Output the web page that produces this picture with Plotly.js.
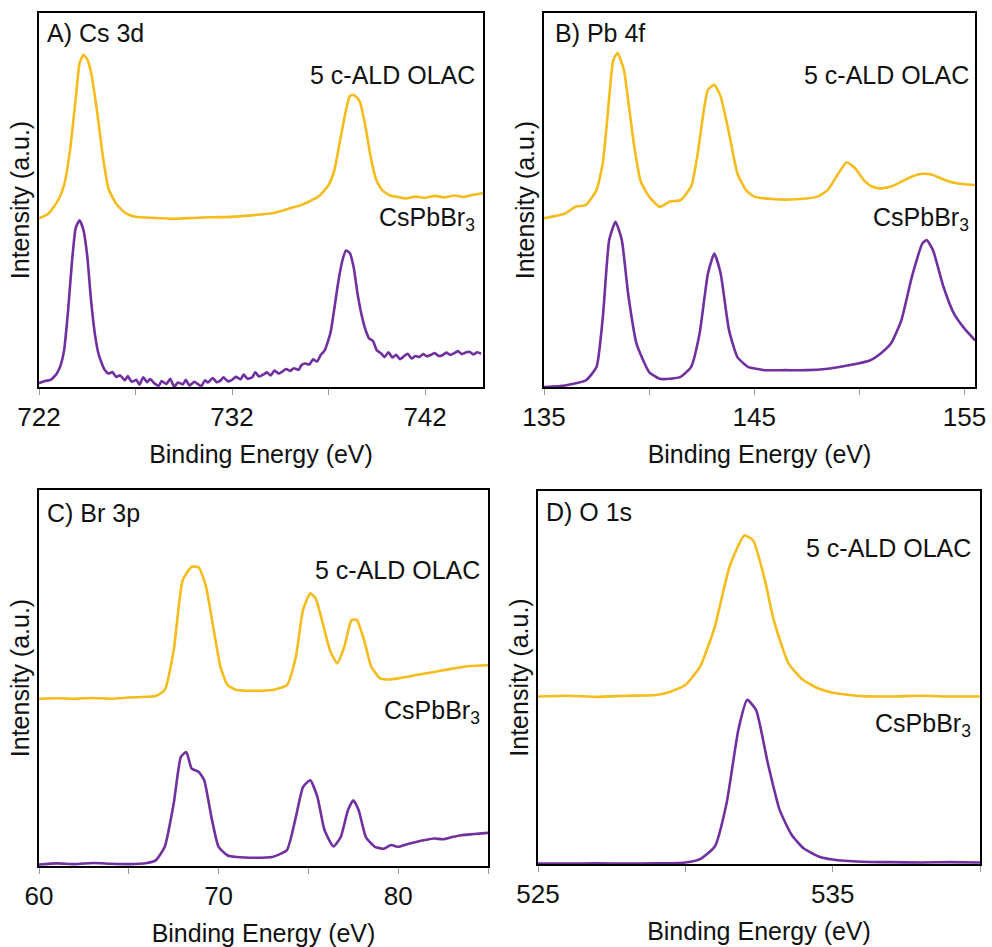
<!DOCTYPE html>
<html>
<head>
<meta charset="utf-8">
<script src="https://cdn.plot.ly/plotly-3.0.1.min.js"></script>
<style>html,body{margin:0;padding:0;background:#fff;}#chart{width:992px;height:947px;}</style>
</head>
<body>
<div id="chart"></div>
<script>
// ---------- Data (intensity in arbitrary units) ----------
// Panel A: Cs 3d
const csX_ald = [722,722.5,723,723.3,723.6,723.9,724.1,724.3,724.5,724.7,725,725.3,725.6,726,726.5,727,728,729,730,731,732,733,734,734.5,735,735.5,736,736.5,737,737.3,737.6,737.9,738.1,738.3,738.6,738.9,739.2,739.5,739.8,740.2,740.6,741,741.5,742,742.5,743,743.5,744,744.5,745];
const csY_ald = [45.1,46.4,50,54,63,77,86.5,88.8,87.6,84,74,62,53,49,46.4,45.5,45.2,45,45.2,45.4,45.5,45.9,46.4,47,47.8,48.5,49.6,51,54,58,66,74,77.8,78.1,76.5,70,61,55,52.5,51.2,50.8,50.4,50.9,50.6,51.1,50.7,51.2,50.8,51.4,51.8];
const csX_ref = [722,722.3,722.6,722.9,723.1,723.3,723.5,723.7,723.9,724.1,724.3,724.5,724.7,724.9,725.1,725.4,725.6,725.8,726,726.2,726.45,726.6,726.8,727.05,727.2,727.4,727.6,727.75,728,728.2,728.35,728.6,728.8,729.0,729.2,729.45,729.6,729.8,730.05,730.2,730.4,730.6,730.75,731,731.2,731.4,731.55,731.8,732,732.2,732.45,732.6,732.8,733.05,733.2,733.4,733.65,733.8,734,734.2,734.4,734.6,734.8,735,735.2,735.45,735.6,735.8,736,736.2,736.4,736.6,736.8,737.1,737.3,737.5,737.7,737.9,738.1,738.3,738.5,738.7,738.9,739.1,739.3,739.5,739.7,739.9,740.1,740.3,740.5,740.7,740.9,741.1,741.3,741.5,741.7,741.9,742.1,742.3,742.5,742.7,742.9,743.1,743.3,743.5,743.7,743.9,744.1,744.3,744.5,744.7,744.9];
const csY_ref = [1.0,1.6,1.9,3.4,5.5,9.8,20,33,42.5,44.6,42,35,23,14,8.5,4.6,3.6,4.0,2.7,3.1,1.8,2.9,1.4,1.9,0.6,2.6,1.3,2.1,0.9,0.3,1.6,0.8,2.2,0.1,1.2,0.7,1.9,0.4,1.4,0.9,0.2,1.8,1.2,2.4,1.3,1.7,2.6,1.5,1.9,2.7,2.1,3.3,2.2,2.6,3.9,2.8,3.4,3.9,3.1,4.4,3.6,4.1,4.8,4.3,5.0,4.6,5.9,6.3,6.0,7.4,6.8,8.6,9.8,14.5,21,28,33.5,36.5,35.8,32,25,19.5,15.5,13,12.3,9.8,9.1,8.0,9.3,7.9,8.6,7.4,8.2,8.9,7.6,8.3,8.0,8.8,8.2,8.6,9.1,8.3,8.5,9.2,8.6,9.0,9.6,8.8,9.2,9.4,8.7,9.3,8.9];

// Panel B: Pb 4f
const pbX_ald = [135,136,136.5,137,137.5,137.8,138,138.3,138.5,138.8,139,139.3,139.6,140,140.5,141,141.5,142,142.3,142.6,142.8,143.1,143.4,143.8,144.2,144.6,145,146,147,148,148.5,149,149.4,149.8,150.2,150.6,151,151.5,152,152.5,153,153.5,154,154.5,155,155.5];
const pbY_ald = [45.1,46.4,48.2,48.7,52.7,60,71,87.5,89.3,84.8,76.8,64,55,50.9,48.2,49.6,50,53.6,62,74,79.5,80.8,77.7,67.9,57.1,52.7,50.9,50.2,50.2,50.9,52.7,57.1,60.1,58.5,55.4,53.6,53.1,53.6,54.9,56.3,57,56.7,55.5,54.6,54.2,54];
const pbX_ref = [135,136,137,137.5,137.8,138.1,138.4,138.7,139,139.4,140,140.5,141,141.5,142,142.4,142.8,143.1,143.4,143.8,144.2,144.7,145.5,146.5,147.5,148.5,149.5,150.5,151,151.5,152,152.5,153,153.2,153.5,154,154.5,155,155.5];
const pbY_ref = [0,0.4,1.8,5.4,18.8,39.3,44.2,39.3,25,11.6,4,2.2,2.2,2.7,5.4,14.3,30.4,35.7,30.4,15.2,8,5.4,4.5,4.5,4.5,4.9,5.8,7.1,8.9,11.6,17.9,29.5,38.4,39.3,36.6,26.8,19.6,15.6,12.5];

// Panel C: Br 3p
const brX_ald = [60,61,62,63,64,65,66,66.5,67,67.5,68,68.5,68.9,69.3,69.7,70.1,70.5,71,72,73,73.8,74.3,74.7,75.1,75.4,75.8,76.2,76.6,77,77.4,77.7,78.1,78.5,79,79.5,80,81,82,83,84,85];
const brY_ald = [44.5,44.6,44.5,44.7,44.5,44.8,45,45.2,46.8,57.4,76,79.6,79.4,74.3,63.6,53,48.1,46.8,46.6,46.8,48.1,55.6,68.1,72.5,71.2,64.5,57.4,53.9,58.3,65.4,65.4,60.1,53,49.9,49.6,49.9,50.8,51.6,52.5,53.2,53.4];
const brX_ref = [60,61,62,63,64,65,66,66.5,67,67.5,67.9,68.2,68.5,68.9,69.2,69.6,70,70.5,71,72,73,73.8,74.3,74.7,75.1,75.5,75.9,76.4,76.8,77.2,77.5,77.8,78.2,78.7,79.2,79.6,80,80.5,81,81.5,82,82.5,83,83.5,84,84.5,85];
const brY_ref = [0.4,0.7,0.5,0.8,0.6,0.5,0.8,1.5,5.1,16.6,29,30.3,25.9,25,22.8,13,5.1,2.8,2.4,2.2,2.4,4.2,13,21,22.8,18.4,9.5,5.2,7.7,14.8,17.5,14.8,7.7,5.1,4.6,5.6,5.1,5.8,6.4,6.9,7.3,7.1,7.7,8.2,8.4,8.6,8.8];

// Panel D: O 1s
const oX_ald = [525,526,527,528,529,529.5,530,530.5,531,531.5,532,532.3,532.7,533,533.5,534,534.5,535,536,537,538,539,540];
const oY_ald = [44.9,45.1,44.8,45.1,45.3,46.2,48,52.9,63.6,79.7,88.1,86.8,76.1,65.4,53.8,49.3,47.1,45.9,45,44.9,45.1,44.9,44.9];
const oX_ref = [525,526,527,528,529,529.5,530,530.5,531,531.4,531.8,532.1,532.4,532.8,533.2,533.6,534,534.5,535,536,537,538,539,540];
const oY_ref = [0.1,0.1,0.2,0.1,0.2,0.2,0.4,1.3,4.7,16.3,36,44,41.3,27,14.5,7.9,4.3,2.1,1.2,0.6,0.5,0.4,0.5,0.4];

// Labels
const panelLabels = ["A) Cs 3d", "B) Pb 4f", "C) Br 3p", "D) O 1s"];
const seriesNames = ["5 c-ALD OLAC", "CsPbBr<sub>3</sub>"];
const xTitle = "Binding Energy (eV)";
const yTitle = "Intensity (a.u.)";

// ---------- Styles ----------
const gold = "#F5BC1C";
const purple = "#7030A0";
const FONT = "Arial, 'Liberation Sans', sans-serif";

const panels = [
  {xs:[csX_ald,csX_ref], ys:[csY_ald,csY_ref], range:[722,745], tick0:722, dom:{x:[39,483], y:[13,387]},
   lab:[0.0135,0.947], ald:[0.986,0.834], ref:[0.986,0.45]},
  {xs:[pbX_ald,pbX_ref], ys:[pbY_ald,pbY_ref], range:[135,155.5], tick0:135, dom:{x:[544,975], y:[13,387]},
   lab:[0.021,0.947], ald:[0.99,0.834], ref:[0.99,0.45]},
  {xs:[brX_ald,brX_ref], ys:[brY_ald,brY_ref], range:[60,85], tick0:60, dom:{x:[39,488], y:[490,866]},
   lab:[0.013,0.939], ald:[0.987,0.787], ref:[0.987,0.41]},
  {xs:[oX_ald,oX_ref], ys:[oY_ald,oY_ref], range:[525,540], tick0:525, dom:{x:[538,980], y:[491,864]},
   lab:[0.0136,0.944], ald:[0.984,0.847], ref:[0.984,0.373]}
];

const W = 992, H = 947;
const traces = [];
const layout = {
  width: W, height: H,
  margin: {l:0, r:0, t:0, b:0},
  paper_bgcolor: "#fff", plot_bgcolor: "#fff",
  showlegend: false,
  font: {family: FONT, size: 25, color: "#111"},
  annotations: []
};

panels.forEach((p, i) => {
  const n = i + 1;
  const xa = "x" + (n === 1 ? "" : n), ya = "y" + (n === 1 ? "" : n);
  const colors = [gold, purple];
  [0,1].forEach(k => {
    traces.push({x: p.xs[k], y: p.ys[k], type: "scatter", mode: "lines",
      name: seriesNames[k].replace(/<[^>]+>/g, ""), xaxis: xa, yaxis: ya,
      line: {color: colors[k], width: 2.6, shape: "spline", smoothing: 0.5}, hoverinfo: "x+y"});
  });
  const xkey = "xaxis" + (n === 1 ? "" : n), ykey = "yaxis" + (n === 1 ? "" : n);
  layout[xkey] = {
    domain: [p.dom.x[0]/W, p.dom.x[1]/W], anchor: ya, range: p.range,
    showgrid: false, zeroline: false, showline: true, mirror: true, linecolor: "#000", linewidth: 2,
    ticks: "outside", ticklen: 6, tickwidth: 1, tickcolor: "#999", tick0: p.tick0, dtick: 10,
    minor: {dtick: 5, tick0: p.tick0, ticks: "outside", ticklen: 6, tickwidth: 1, tickcolor: "#999", showgrid: false},
    tickfont: {family: FONT, size: 26, color: "#111"},
    title: {text: xTitle, font: {family: FONT, size: 25, color: "#111"}, standoff: 14},
    fixedrange: true
  };
  layout[ykey] = {
    domain: [1 - p.dom.y[1]/H, 1 - p.dom.y[0]/H], anchor: xa, range: [0, 100],
    showgrid: false, zeroline: false, showline: true, mirror: true, linecolor: "#000", linewidth: 2,
    ticks: "", showticklabels: false,
    title: {text: yTitle, font: {family: FONT, size: 25, color: "#111"}, standoff: 0},
    fixedrange: true
  };
  const xd = xa + " domain", yd = ya + " domain";
  layout.annotations.push(
    {text: panelLabels[i], xref: xd, yref: yd, x: p.lab[0], y: p.lab[1], xanchor: "left", yanchor: "middle", showarrow: false, font: {family: FONT, size: 25, color: "#111"}},
    {text: seriesNames[0], xref: xd, yref: yd, x: p.ald[0], y: p.ald[1], xanchor: "right", yanchor: "middle", showarrow: false, font: {family: FONT, size: 25, color: "#111"}},
    {text: seriesNames[1], xref: xd, yref: yd, x: p.ref[0], y: p.ref[1], xanchor: "right", yanchor: "middle", showarrow: false, font: {family: FONT, size: 25, color: "#111"}}
  );
});

Plotly.newPlot("chart", traces, layout, {staticPlot: true, displayModeBar: false});
</script>
</body>
</html>
